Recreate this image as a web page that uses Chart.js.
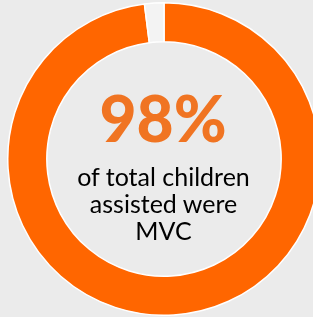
<!DOCTYPE html>
<html><head><meta charset="utf-8">
<script src="https://cdn.jsdelivr.net/npm/chart.js@4.4.0/dist/chart.umd.min.js"></script>
<style>
html,body{margin:0;padding:0;background:#ebebeb;width:313px;height:317px;overflow:hidden;}
#wrap{position:absolute;left:7px;top:2px;width:314px;height:314px;}
#big{position:absolute;left:0;width:326px;top:83px;text-align:center;font-family:Lato,sans-serif;font-weight:900;font-size:64px;color:#f07422;line-height:70px;}
#sub{position:absolute;left:0;width:327px;top:163px;text-align:center;font-family:Lato,sans-serif;font-size:25px;color:#000;line-height:27px;}
</style></head>
<body>
<div id="wrap"><canvas id="c" width="314" height="314"></canvas></div>
<div id="big"></div>
<div id="sub"></div>
<script>
const categories = ["MVC", "Other"];
const values = [98, 2];
const colors = ["#ff6600", "#f3f3f3"];
const headline = "98%";
const caption = ["of total children", "assisted were", "MVC"];

document.getElementById('big').textContent = headline;
document.getElementById('sub').innerHTML = caption.join('<br>');

new Chart(document.getElementById('c'), {
  type: 'doughnut',
  data: {
    labels: categories,
    datasets: [{
      data: values,
      backgroundColor: colors,
      borderColor: '#ffffff',
      borderWidth: 1.5
    }]
  },
  options: {
    responsive: false,
    animation: false,
    devicePixelRatio: 1,
    cutout: '75%',
    plugins: { legend: { display: false }, tooltip: { enabled: false } }
  }
});
</script>
</body></html>
